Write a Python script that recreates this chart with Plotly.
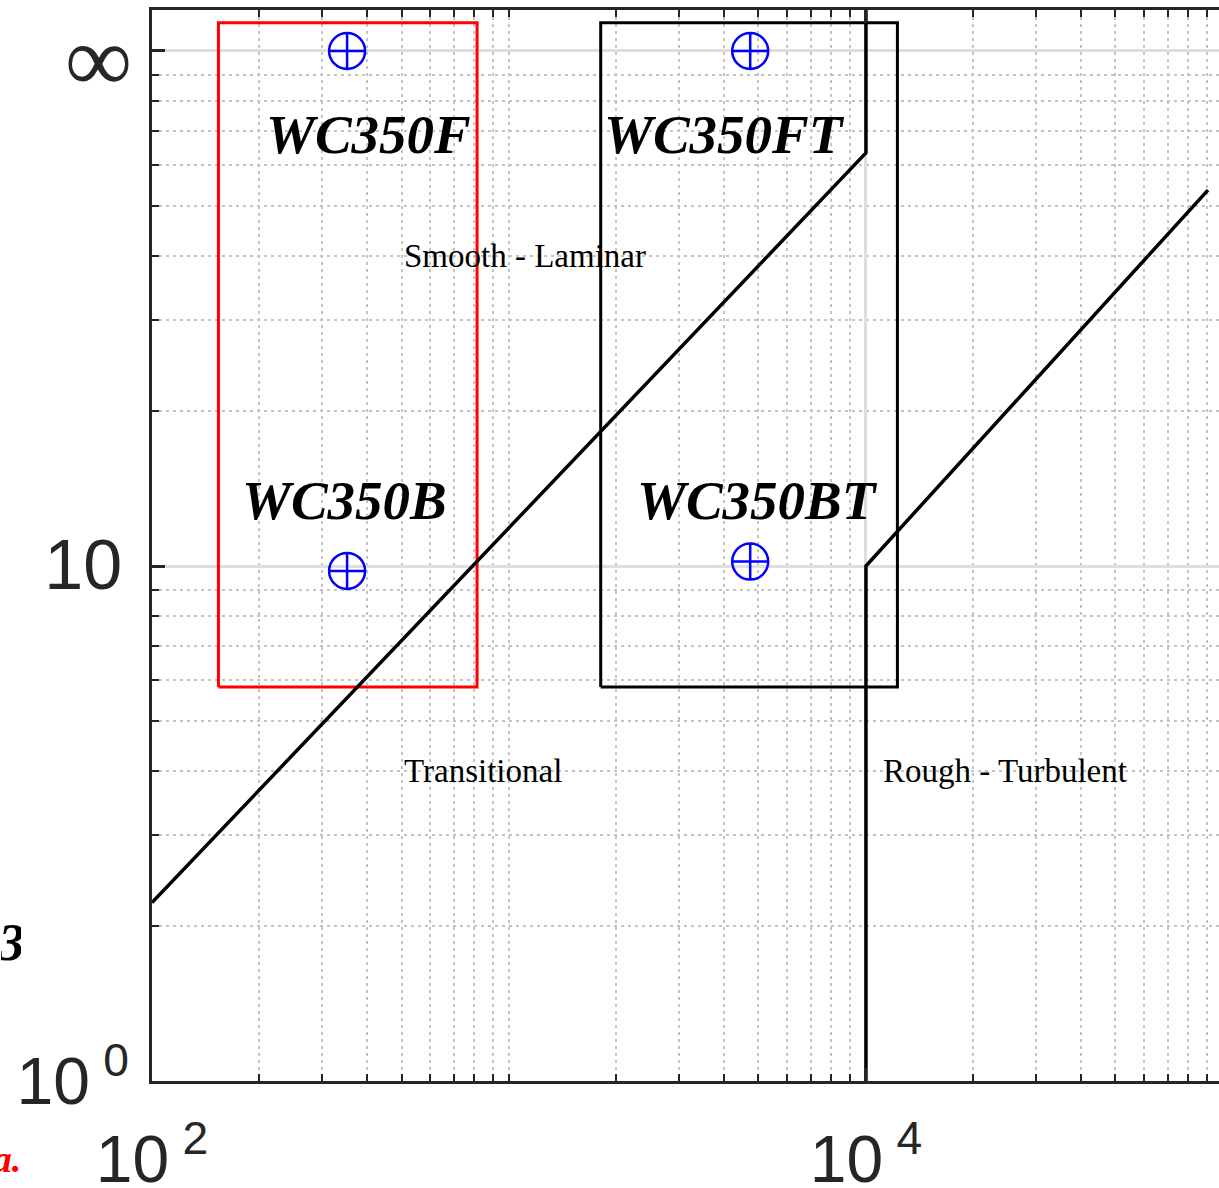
import numpy as np
import plotly.graph_objects as go

# ---- data ----
# regime boundary lines
smooth_trans_x = [100, 10000, 10000]
smooth_trans_y = [2.22, 63.4, 130]
trans_rough_x = [10000, 10000, 90800]
trans_rough_y = [1, 10, 53.7]

# tested ranges (boxes)
red_box_x = [153.5, 814]
red_box_y = [5.82, 113.4]
black_box_x = [1807, 12250]
black_box_y = [5.82, 113.4]

# specimens
specimen_names = ["WC350F", "WC350FT", "WC350B", "WC350BT"]
specimen_x = [352, 4740, 352, 4740]
specimen_y = [100, 100, 9.78, 10.2]
label_x = [403, 4018, 347, 4966]
label_y = [68.7, 68.7, 13.4, 13.4]

# regime labels
regime_names = ["Smooth - Laminar", "Transitional", "Rough - Turbulent"]
regime_x = [500, 500, 11000]
regime_y = [40, 4, 4]

# axis ticks
GAP = "<span style='font-size:48px'>\u00a0</span>"
x_tickvals = [100, 10000]
x_ticktext = [f"10{GAP}<sup>2</sup>", f"10{GAP}<sup>4</sup>"]
y_tickvals = [1, 10, 100]
y_ticktext = [f"10{GAP}<sup>0</sup>",
              "<span style='font-size:70px'>10</span><span style='font-size:25px'>\u00a0</span>",
              ""]
infinity_label = "∞"
infinity_value = 100
x_minor = [m * 10 ** e for e in (2, 3, 4) for m in range(2, 10)] + [1000]
y_minor = [m * 10 ** e for e in (0, 1) for m in range(2, 10)]

fig = go.Figure()

def rect(xs, ys):
    return [xs[0], xs[1], xs[1], xs[0], xs[0]], [ys[0], ys[0], ys[1], ys[1], ys[0]]

bx, by = rect(red_box_x, red_box_y)
fig.add_trace(go.Scatter(x=bx, y=by, mode="lines", line=dict(color="#ff0000", width=3)))
bx, by = rect(black_box_x, black_box_y)
fig.add_trace(go.Scatter(x=bx, y=by, mode="lines", line=dict(color="black", width=3)))

fig.add_trace(go.Scatter(x=smooth_trans_x, y=smooth_trans_y, mode="lines",
                         line=dict(color="black", width=3.5)))
fig.add_trace(go.Scatter(x=trans_rough_x, y=trans_rough_y, mode="lines",
                         line=dict(color="black", width=3.5)))

fig.add_trace(go.Scatter(x=specimen_x, y=specimen_y, mode="markers",
                         marker=dict(symbol="circle-cross-open", size=36, color="#0000ff",
                                     line=dict(width=2.5, color="#0000ff"))))

for name, lx, ly in zip(specimen_names, label_x, label_y):
    fig.add_annotation(x=np.log10(lx), y=np.log10(ly), xref="x", yref="y",
                       text=f"<b><i>{name}</i></b>", showarrow=False,
                       xanchor="center", yanchor="middle",
                       font=dict(family="Liberation Serif", size=55, color="black"))

for name, rx, ry in zip(regime_names, regime_x, regime_y):
    fig.add_annotation(x=np.log10(rx), y=np.log10(ry), xref="x", yref="y",
                       text=name, showarrow=False, xanchor="left", yanchor="middle",
                       font=dict(family="Liberation Serif", size=33, color="black"))

# the "infinity" tick label of the y axis
fig.add_annotation(x=-0.0165, y=np.log10(infinity_value), xref="paper", yref="y",
                   text=infinity_label, showarrow=False, xanchor="right", yanchor="middle",
                   yshift=-8, height=60,
                   font=dict(family="Liberation Serif", size=94, color="#262626"))

# fragments of neighbouring panels at the left edge
fig.add_annotation(x=-0.121, y=0.13, xref="paper", yref="paper", text="<b><i>3</i></b>",
                   showarrow=False, xanchor="right", yanchor="middle", width=20, height=40,
                   font=dict(family="Liberation Serif", size=52, color="black"))
fig.add_annotation(x=-0.1198, y=-0.073, xref="paper", yref="paper", text="<b><i>a.</i></b>",
                   showarrow=False, xanchor="right", yanchor="middle", width=30, height=26,
                   font=dict(family="Liberation Serif", size=38, color="#ff0000"))

axis_common = dict(
    showline=True, linewidth=2.5, linecolor="#262626",
    ticks="inside", ticklen=13, tickwidth=2.5, tickcolor="#262626",
    showgrid=True, gridcolor="#dedede", gridwidth=2.5,
    zeroline=False, automargin=False, ticklabeloverflow="allow",
    tickfont=dict(family="Liberation Sans", size=66, color="#262626"),
)
minor_common = dict(ticks="inside", ticklen=7, tickwidth=2, tickcolor="#262626",
                    showgrid=True, gridcolor="#c4c4c4", griddash="3px,4px", gridwidth=2)

fig.update_xaxes(type="log", range=[2, 4.989], tickmode="array",
                 tickvals=x_tickvals, ticktext=x_ticktext, mirror="allticks",
                 ticklabelstandoff=19,
                 minor=dict(tickvals=x_minor, **minor_common),
                 **axis_common)
fig.update_yaxes(type="log", range=[0, 2.0796], tickmode="array",
                 tickvals=y_tickvals, ticktext=y_ticktext, mirror=False,
                 ticklabelstandoff=7,
                 minor=dict(tickvals=y_minor, **minor_common),
                 **axis_common)

fig.update_layout(width=1219, height=1188, margin=dict(l=152, r=0, t=10, b=107),
                  paper_bgcolor="white", plot_bgcolor="white", showlegend=False,
                  hovermode=False)

fig.write_html("out.html")
